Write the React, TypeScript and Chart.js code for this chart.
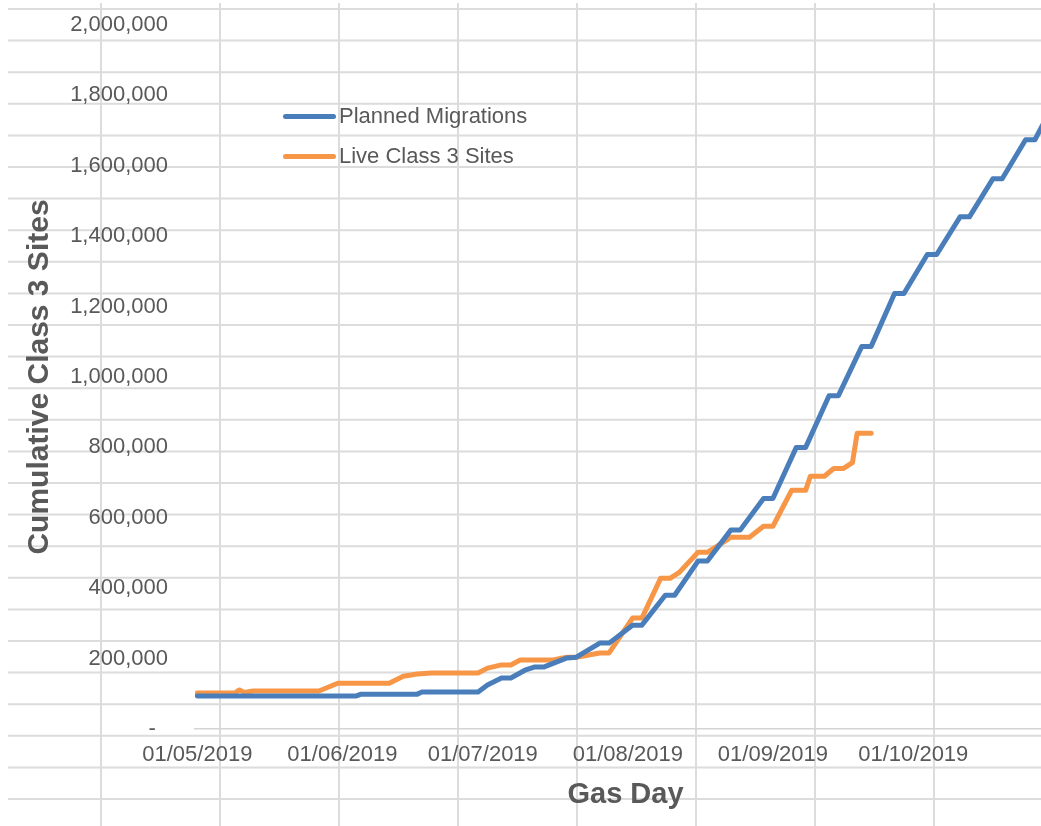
import React, { useEffect, useRef } from 'react';
import { Chart, registerables } from 'chart.js';

Chart.register(...registerables);

// ---- Data ----
const PLANNED_DATES = [
  '2019-05-01', '2019-06-04', '2019-06-05', '2019-06-17', '2019-06-18', '2019-06-30',
  '2019-07-02', '2019-07-05', '2019-07-07', '2019-07-10', '2019-07-12', '2019-07-14',
  '2019-07-19', '2019-07-21', '2019-07-26', '2019-07-28', '2019-08-02', '2019-08-04',
  '2019-08-09', '2019-08-11', '2019-08-16', '2019-08-18', '2019-08-23', '2019-08-25',
  '2019-08-30', '2019-09-01', '2019-09-06', '2019-09-08', '2019-09-13', '2019-09-15',
  '2019-09-20', '2019-09-22', '2019-09-27', '2019-09-29', '2019-10-04', '2019-10-06',
  '2019-10-11', '2019-10-13', '2019-10-18', '2019-10-20', '2019-10-25', '2019-10-27',
  '2019-10-28', '2019-10-29',
];
const PLANNED_VALUES = [
  94000, 94000, 99000, 99000, 105000, 105000,
  125000, 145000, 145000, 167000, 176000, 176000,
  202000, 204000, 244000, 244000, 295000, 295000,
  380000, 380000, 477000, 477000, 565000, 565000,
  655000, 655000, 800000, 800000, 947000, 947000,
  1087000, 1087000, 1237000, 1237000, 1348000, 1348000,
  1455000, 1455000, 1563000, 1563000, 1674000, 1674000,
  1700000, 1725000,
];

const LIVE_DATES = [
  '2019-05-01', '2019-05-09', '2019-05-10', '2019-05-11', '2019-05-13', '2019-05-27',
  '2019-05-31', '2019-06-11', '2019-06-14', '2019-06-17', '2019-06-20', '2019-06-30',
  '2019-07-02', '2019-07-05', '2019-07-07', '2019-07-09', '2019-07-16', '2019-07-19',
  '2019-07-21', '2019-07-26', '2019-07-28', '2019-08-02', '2019-08-04', '2019-08-08',
  '2019-08-10', '2019-08-12', '2019-08-16', '2019-08-18', '2019-08-22', '2019-08-23',
  '2019-08-27', '2019-08-30', '2019-09-01', '2019-09-05', '2019-09-08', '2019-09-09',
  '2019-09-12', '2019-09-14', '2019-09-16', '2019-09-18', '2019-09-19', '2019-09-22',
];
const LIVE_VALUES = [
  102000, 102000, 111000, 104000, 108000, 108000,
  130000, 130000, 150000, 156000, 159000, 159000,
  173000, 182000, 182000, 196000, 196000, 204000,
  204000, 216000, 216000, 315000, 315000, 428000,
  428000, 445000, 502000, 502000, 536000, 545000,
  545000, 576000, 576000, 678000, 678000, 718000,
  718000, 740000, 740000, 757000, 840000, 840000,
];

const X_TICK_DATES = ['2019-05-01', '2019-06-01', '2019-07-01', '2019-08-01', '2019-09-01', '2019-10-01'];
const X_FIRST_DATE = '2019-05-01';
const X_LAST_DATE = '2019-10-31';
const Y_MAX = 2000000;
const Y_STEP = 200000;

const SERIES_NAMES = ['Planned Migrations', 'Live Class 3 Sites'];
const X_TITLE = 'Gas Day';
const Y_TITLE = 'Cumulative Class 3 Sites';

// ---- Styling ----
const BLUE = '#4A7EBB';
const ORANGE = '#F79646';
const TEXT = '#595959';
const FONT = '"Liberation Sans", Arial, Helvetica, sans-serif';
const VIEW_W = 1041;
const VIEW_H = 826;
const CANVAS_W = 1056;

const DAY = 86400000;
const dayIndex = (s: string) => {
  const [y, m, d] = s.split('-').map(Number);
  return Date.UTC(y, m - 1, d) / DAY;
};
const fmtDate = (v: number) => {
  const dt = new Date(Math.round(v) * DAY);
  const dd = String(dt.getUTCDate()).padStart(2, '0');
  const mm = String(dt.getUTCMonth() + 1).padStart(2, '0');
  return `${dd}/${mm}/${dt.getUTCFullYear()}`;
};
const toPoints = (dates: string[], values: number[]) =>
  dates.map((d, i) => ({ x: dayIndex(d), y: values[i] }));

// spreadsheet cell grid behind the chart
const sheetGrid = {
  id: 'sheetGrid',
  beforeDraw(chart: any) {
    const { ctx, width, height } = chart;
    ctx.save();
    ctx.fillStyle = '#ffffff';
    ctx.fillRect(0, 0, width, height);
    ctx.strokeStyle = '#dcdcdc';
    ctx.lineWidth = 2;
    ctx.beginPath();
    for (let y = 9; y < height; y += 31.6) {
      ctx.moveTo(8, y);
      ctx.lineTo(width, y);
    }
    for (let x = 101; x < width; x += 119) {
      ctx.moveTo(x, 3);
      ctx.lineTo(x, height);
    }
    ctx.stroke();
    ctx.restore();
  },
};

export default function App() {
  const ref = useRef<HTMLCanvasElement | null>(null);

  useEffect(() => {
    if (!ref.current) return;
    const chart = new Chart(ref.current, {
      type: 'line',
      data: {
        datasets: [
          {
            label: SERIES_NAMES[0],
            data: toPoints(PLANNED_DATES, PLANNED_VALUES),
            borderColor: BLUE,
            backgroundColor: BLUE,
            borderWidth: 5,
            pointRadius: 0,
            tension: 0,
            borderJoinStyle: 'round',
            borderCapStyle: 'round',
          },
          {
            label: SERIES_NAMES[1],
            data: toPoints(LIVE_DATES, LIVE_VALUES),
            borderColor: ORANGE,
            backgroundColor: ORANGE,
            borderWidth: 5,
            pointRadius: 0,
            tension: 0,
            borderJoinStyle: 'round',
            borderCapStyle: 'round',
          },
        ],
      },
      options: {
        animation: false,
        responsive: false,
        maintainAspectRatio: false,
        layout: { padding: { top: 25, left: 0, right: 0, bottom: 0 } },
        plugins: {
          legend: { display: false },
          tooltip: { enabled: false },
        },
        scales: {
          x: {
            type: 'linear',
            min: dayIndex(X_FIRST_DATE) - 0.5,
            max: dayIndex(X_LAST_DATE) + 0.5,
            grid: { display: false, drawTicks: false },
            border: { display: true, color: '#d4d4d4', width: 1.5 },
            afterBuildTicks: (scale: any) => {
              scale.ticks = X_TICK_DATES.map((d) => ({ value: dayIndex(d) }));
            },
            afterFit: (scale: any) => {
              scale.height = 97;
            },
            ticks: {
              autoSkip: false,
              maxRotation: 0,
              padding: 13,
              color: TEXT,
              font: { family: FONT, size: 22 },
              callback: (v: any) => fmtDate(Number(v)),
            },
            title: {
              display: true,
              text: X_TITLE,
              color: TEXT,
              font: { family: FONT, size: 29, weight: 'bold' },
              padding: { top: 0, bottom: 13.5 },
            },
          },
          y: {
            type: 'linear',
            min: 0,
            max: Y_MAX,
            grid: { display: false, drawTicks: true, tickLength: 27 },
            border: { display: false },
            afterFit: (scale: any) => {
              scale.width = 195;
            },
            ticks: {
              stepSize: Y_STEP,
              padding: 0,
              color: TEXT,
              font: { family: FONT, size: 22 },
              callback: (v: any) => (Number(v) === 0 ? '-  ' : Number(v).toLocaleString('en-US')),
            },
            title: {
              display: true,
              text: Y_TITLE,
              color: TEXT,
              font: { family: FONT, size: 30, weight: 'bold' },
              padding: { top: 22, bottom: 0 },
            },
          },
        },
      },
      plugins: [sheetGrid],
    } as any);
    return () => chart.destroy();
  }, []);

  const legendRow = (top: number, color: string, text: string) => (
    <div
      style={{
        position: 'absolute',
        left: 283,
        top,
        height: 24,
        display: 'flex',
        alignItems: 'center',
        font: `22px ${FONT}`,
        color: TEXT,
        whiteSpace: 'nowrap',
      }}
    >
      <span
        style={{
          display: 'inline-block',
          width: 53,
          height: 5,
          borderRadius: 2.5,
          background: color,
          marginRight: 3,
        }}
      />
      <span>{text}</span>
    </div>
  );

  return (
    <div
      style={{
        position: 'absolute',
        left: 0,
        top: 0,
        width: VIEW_W,
        height: VIEW_H,
        overflow: 'hidden',
        background: '#fff',
      }}
    >
      <canvas ref={ref} width={CANVAS_W} height={VIEW_H} style={{ display: 'block' }} />
      {legendRow(104, BLUE, SERIES_NAMES[0])}
      {legendRow(144, ORANGE, SERIES_NAMES[1])}
    </div>
  );
}
